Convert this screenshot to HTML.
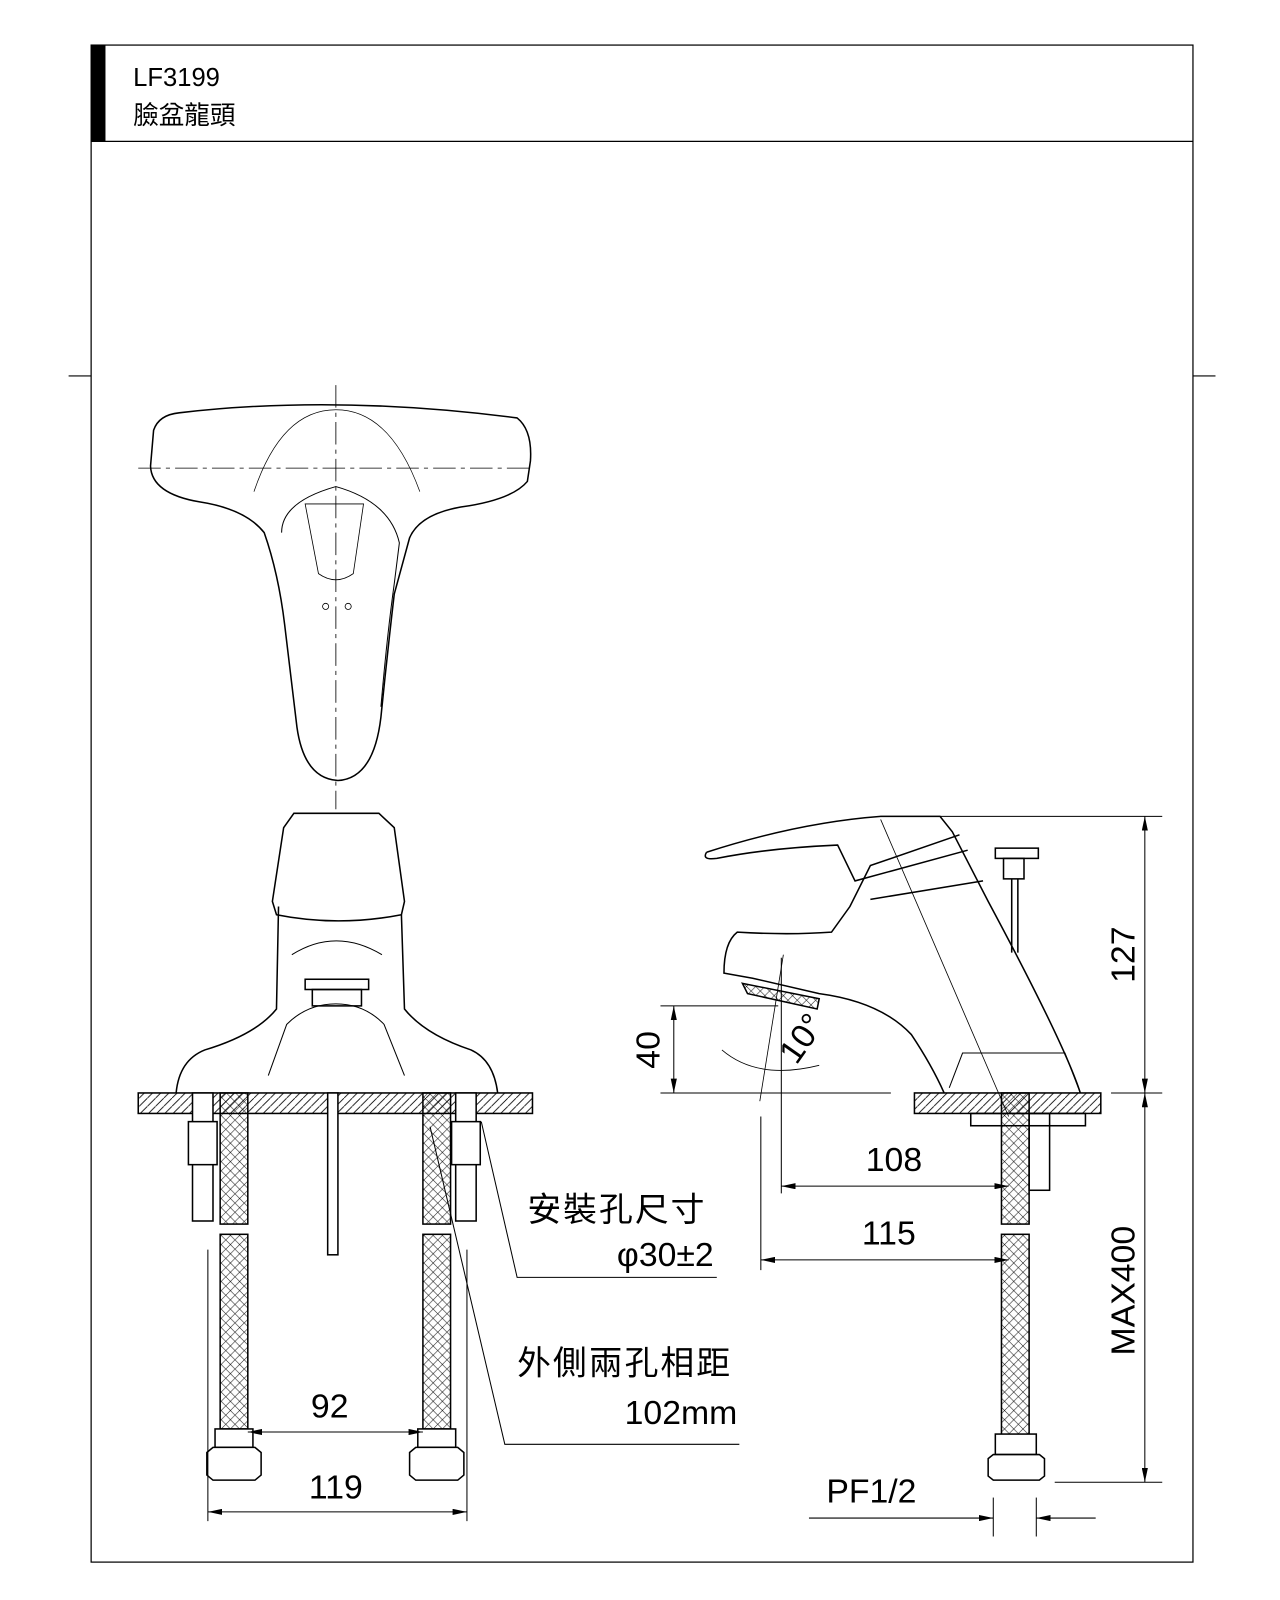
<!DOCTYPE html>
<html><head><meta charset="utf-8"><style>
html,body{margin:0;padding:0;background:#fff;width:1280px;height:1600px;overflow:hidden}
svg{display:block}
text{font-family:"Liberation Sans","Noto Sans CJK TC",sans-serif;fill:#000}
</style></head><body>
<svg width="1280" height="1600" viewBox="0 0 1250 1562" preserveAspectRatio="none" xmlns="http://www.w3.org/2000/svg">
<defs>
<pattern id="h" width="8" height="8" patternUnits="userSpaceOnUse"><path d="M0 8L8 0" stroke="#000" stroke-width="0.8"/></pattern>
<pattern id="x" width="9" height="9" patternUnits="userSpaceOnUse"><path d="M0 0L4.5 4.5L9 0M0 9L4.5 4.5L9 9" stroke="#000" stroke-width="0.5" fill="none"/></pattern>
<marker id="a" markerWidth="14" markerHeight="6" refX="14" refY="3" orient="auto" markerUnits="userSpaceOnUse"><path d="M0 0L14 3L0 6z" fill="#000"/></marker>
<marker id="b" markerWidth="14" markerHeight="6" refX="0" refY="3" orient="auto" markerUnits="userSpaceOnUse"><path d="M14 0L0 3L14 6z" fill="#000"/></marker>
</defs>
<g fill="none" stroke="#000" stroke-width="1.2">
<rect x="89" y="44" width="1076" height="1481"/>
<line x1="89" y1="138" x2="1165" y2="138"/>
<line x1="67" y1="367" x2="89" y2="367"/><line x1="1165" y1="367" x2="1187" y2="367"/>
</g>
<rect x="89" y="44" width="14" height="94" fill="#000"/>
<text x="130" y="84" font-size="25">LF3199</text>
<text x="130" y="121" font-size="25">臉盆龍頭</text>

<g fill="none" stroke="#000" stroke-width="1.5">
<path d="M175 403 Q328 385 505 408 Q520 420 518 450 L515 470 Q500 488 450 495 Q410 502 400 525 L385 580 Q378 640 372 700 Q365 760 330 762 Q297 760 290 710 L278 610 Q272 560 258 520 Q240 497 195 490 Q148 482 147 455 L150 420 Q155 405 175 403Z"/>
<path d="M275 520 Q275 490 328 475 Q381 490 390 530 L385 570 Q378 620 372 690" stroke-width="1"/>
<path d="M248 480 Q275 400 328 400 Q381 400 410 480" stroke-width="0.7"/>
<path d="M298 492 L355 492 L345 560 Q328 572 311 560Z" stroke-width="0.8"/>
<circle cx="318" cy="592" r="3" stroke-width="0.8"/><circle cx="340" cy="592" r="3" stroke-width="0.8"/>
<path d="M287 794 L370 794 L385 808 L395 880 L392 893 Q330 905 270 893 L266 880 L277 808Z"/>
<path d="M272 885 L270 985 Q250 1010 200 1025 Q175 1035 172 1067 M392 893 L395 985 Q415 1010 460 1025 Q482 1035 486 1067"/>
<path d="M262 1050 L280 1000 Q300 980 328 980 Q356 980 375 1000 L395 1050" stroke-width="1"/>
<path d="M285 932 Q328 905 373 932" stroke-width="1"/>
<rect x="298" y="956" width="62" height="10"/><rect x="305" y="966" width="48" height="16"/>
<rect x="135" y="1067" width="385" height="20" fill="url(#h)"/>
<rect x="893" y="1067" width="182" height="20" fill="url(#h)"/>
<rect x="215" y="1067" width="27" height="128" fill="url(#x)"/><rect x="215" y="1205" width="27" height="190" fill="url(#x)"/>
<rect x="413" y="1067" width="27" height="128" fill="url(#x)"/><rect x="413" y="1205" width="27" height="190" fill="url(#x)"/>
<rect x="978" y="1067" width="27" height="128" fill="url(#x)"/><rect x="978" y="1205" width="27" height="215" fill="url(#x)"/>
<rect x="188" y="1067" width="20" height="125" fill="#fff"/><rect x="445" y="1067" width="20" height="125" fill="#fff"/>
<rect x="184" y="1095" width="28" height="42" fill="#fff"/><rect x="441" y="1095" width="28" height="42" fill="#fff"/>
<rect x="320" y="1067" width="10" height="158" fill="#fff"/>
<rect x="210" y="1395" width="37" height="18" fill="#fff"/><path d="M202 1418 L208 1413 L249 1413 L255 1418 L255 1440 L249 1445 L208 1445 L202 1440Z" fill="#fff"/>
<rect x="408" y="1395" width="37" height="18" fill="#fff"/><path d="M400 1418 L406 1413 L447 1413 L453 1418 L453 1440 L447 1445 L406 1445 L400 1440Z" fill="#fff"/>
<rect x="972" y="1400" width="40" height="20" fill="#fff"/><path d="M965 1424 L970 1420 L1015 1420 L1020 1424 L1020 1441 L1015 1445 L970 1445 L965 1441Z" fill="#fff"/>
<path d="M690 832 Q780 803 860 797 L918 797 L930 812 L965 880 Q1040 1020 1055 1067 M937 815 L850 845 L830 885 L812 910 Q770 913 720 910 Q707 920 707 950 L735 955 L800 970 Q860 978 890 1010 Q910 1040 922 1067"/>
<path d="M690 832 Q685 840 700 838 Q750 828 818 825 L835 860 L945 830 M850 878 L960 860"/>
<path d="M927 1062 L940 1028 L1040 1028 L1055 1067" stroke-width="1"/>
<rect x="972" y="828" width="42" height="10"/><rect x="980" y="838" width="20" height="20"/><path d="M988 858 L988 930 M994 858 L994 930"/>
<path d="M725 960 L800 975 L798 985 L730 970Z" fill="url(#x)"/>
<rect x="948" y="1087" width="112" height="12"/><rect x="1005" y="1087" width="20" height="75"/>
</g>
<g stroke="#000" stroke-width="0.8" fill="none">
<path d="M328 376 L328 790" stroke-dasharray="22 5 4 5"/>
<path d="M135 457 L520 457" stroke-dasharray="22 5 4 5"/>
<path d="M860 800 L985 1090 M765 932 L742 1075"/>
<path d="M705 1025 Q740 1055 800 1040"/>
</g>
<g stroke="#000" stroke-width="1" fill="none">
<line x1="203" y1="1220" x2="203" y2="1485"/><line x1="456" y1="1220" x2="456" y2="1485"/>
<line x1="242" y1="1398" x2="413" y2="1398" marker-start="url(#b)" marker-end="url(#a)"/>
<line x1="203" y1="1476" x2="456" y2="1476" marker-start="url(#b)" marker-end="url(#a)"/>
<path d="M470 1095 L505 1247 L700 1247"/><path d="M420 1100 L493 1410 L722 1410"/>
<line x1="860" y1="797" x2="1135" y2="797"/><line x1="1085" y1="1067" x2="1135" y2="1067"/><line x1="1030" y1="1447" x2="1135" y2="1447"/>
<line x1="1118" y1="797" x2="1118" y2="1067" marker-start="url(#b)" marker-end="url(#a)"/>
<line x1="1118" y1="1067" x2="1118" y2="1447" marker-start="url(#b)" marker-end="url(#a)"/>
<line x1="645" y1="982" x2="760" y2="982"/><line x1="645" y1="1067" x2="870" y2="1067"/>
<line x1="658" y1="982" x2="658" y2="1067" marker-start="url(#b)" marker-end="url(#a)"/>
<line x1="763" y1="935" x2="763" y2="1165"/><line x1="743" y1="1090" x2="743" y2="1240"/>
<line x1="763" y1="1158" x2="985" y2="1158" marker-start="url(#b)" marker-end="url(#a)"/>
<line x1="743" y1="1230" x2="985" y2="1230" marker-start="url(#b)" marker-end="url(#a)"/>
<line x1="970" y1="1462" x2="970" y2="1500"/><line x1="1012" y1="1462" x2="1012" y2="1500"/>
<line x1="790" y1="1482" x2="970" y2="1482" marker-end="url(#a)"/>
<line x1="1070" y1="1482" x2="1012" y2="1482" marker-end="url(#a)"/>
</g>
<g font-size="33">
<text x="322" y="1384" text-anchor="middle">92</text>
<text x="328" y="1463" text-anchor="middle">119</text>
<text x="873" y="1143" text-anchor="middle">108</text>
<text x="868" y="1215" text-anchor="middle">115</text>
<text x="851" y="1467" text-anchor="middle">PF1/2</text>
<text transform="translate(1108 932) rotate(-90)" text-anchor="middle">127</text>
<text transform="translate(1108 1260) rotate(-90)" text-anchor="middle">MAX400</text>
<text transform="translate(644 1025) rotate(-90)" text-anchor="middle">40</text>
<text transform="translate(792 1020) rotate(-55)" text-anchor="middle">10°</text>
<text x="515" y="1192" letter-spacing="2">安裝孔尺寸</text>
<text x="697" y="1236" text-anchor="end">φ30±2</text>
<text x="505" y="1342" letter-spacing="2">外側兩孔相距</text>
<text x="720" y="1390" text-anchor="end">102mm</text>
</g>
</svg>
</body></html>
